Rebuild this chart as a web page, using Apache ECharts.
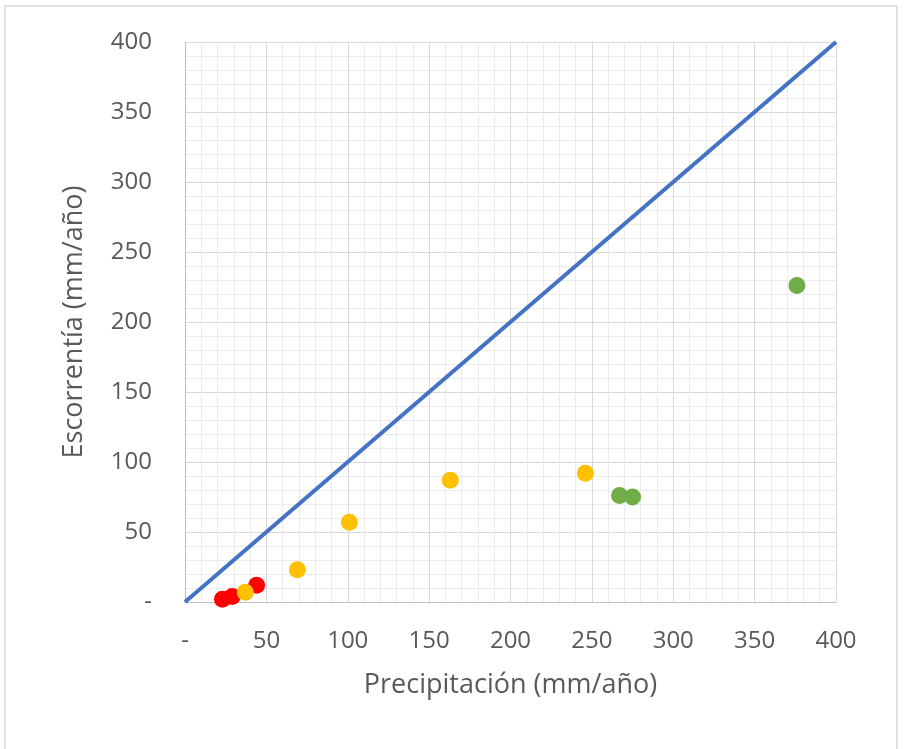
<!DOCTYPE html>
<html>
<head>
<meta charset="utf-8">
<script src="https://cdn.jsdelivr.net/npm/echarts@6/dist/echarts.min.js"></script>
<style>
  html, body { margin: 0; padding: 0; background: #fff; }
  #chart { width: 904px; height: 749px; }
</style>
</head>
<body>
<div id="chart"></div>
<script>
// puntos por grupo: [precipitación, escorrentía]
const redPoints = [[23, 2], [29, 4], [44, 12]];
const orangePoints = [[37, 7], [69, 23], [101, 57], [163, 87], [246, 92]];
const greenPoints = [[267, 76], [275, 75], [376, 226]];
const lineOneToOne = [[0, 0], [400, 400]];
const tickMin = 0, tickMax = 400, tickStep = 50;

const textColor = '#595959';
const font = 'Open Sans';

const fmt = v => (v === 0 ? '-' : String(v));

const axisCommon = {
  type: 'value',
  min: tickMin,
  max: tickMax,
  interval: tickStep,
  axisLine: {show: true, lineStyle: {color: '#BFBFBF', width: 1}},
  axisTick: {show: false},
  splitLine: {show: true, lineStyle: {color: '#D9D9D9', width: 1}},
  minorTick: {show: false, splitNumber: 5},
  minorSplitLine: {show: true, lineStyle: {color: '#ECECEC', width: 1}},
  nameLocation: 'middle',
  nameTextStyle: {color: textColor, fontSize: 27, fontFamily: font}
};

const dot = color => ({color: color, opacity: 1});

const chart = echarts.init(document.getElementById('chart'));
chart.setOption({
  animation: false,
  backgroundColor: '#fff',
  graphic: [{
    type: 'rect',
    shape: {x: 5, y: 6, width: 892, height: 760},
    style: {fill: 'none', stroke: '#D9D9D9', lineWidth: 1.5},
    silent: true
  }],
  grid: {left: 185, right: 68, top: 42, bottom: 147},
  xAxis: {
    ...axisCommon,
    name: 'Precipitación (mm/año)',
    nameGap: 70,
    axisLabel: {color: textColor, fontSize: 24, fontFamily: font, margin: 27, formatter: fmt}
  },
  yAxis: {
    ...axisCommon,
    name: 'Escorrentía (mm/año)',
    nameGap: 97,
    axisLabel: {color: textColor, fontSize: 24, fontFamily: font, margin: 33, formatter: fmt}
  },
  series: [
    {
      type: 'line',
      data: lineOneToOne,
      showSymbol: false,
      lineStyle: {color: '#4472C4', width: 4},
      z: 2
    },
    {type: 'scatter', data: redPoints, symbolSize: 17, itemStyle: dot('#FF0000'), z: 3},
    {type: 'scatter', data: orangePoints, symbolSize: 17, itemStyle: dot('#FFC000'), z: 4},
    {type: 'scatter', data: greenPoints, symbolSize: 17, itemStyle: dot('#70AD47'), z: 4}
  ]
});
</script>
</body>
</html>
